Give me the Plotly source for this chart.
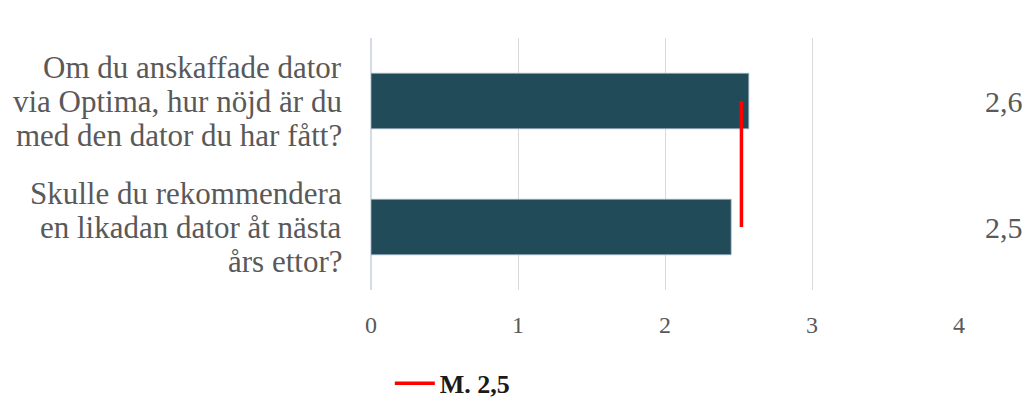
import plotly.graph_objects as go

# Survey questions (top to bottom), wrapped into display lines, and their average scores
questions = [
    "Om du anskaffade dator via Optima, hur nöjd är du med den dator du har fått?",
    "Skulle du rekommendera en likadan dator åt nästa års ettor?",
]
question_lines = [
    ["Om du anskaffade dator", "via Optima, hur nöjd är du", "med den dator du har fått?"],
    ["Skulle du rekommendera", "en likadan dator åt nästa", "års ettor?"],
]
scores = [2.57, 2.45]
mean_score = 2.52
mean_label = "M. 2,5"
x_ticks = [0, 1, 2, 3, 4]

BAR_COLOR = "#224b5a"
TEXT_GRAY = "#595959"
SERIF = "Liberation Serif, Times New Roman, serif"
LABEL_SIZE = 31
LINE_STEP = 34  # px between wrapped label lines


def fmt_sv(v):
    return f"{v:.1f}".replace(".", ",")


fig = go.Figure()

fig.add_trace(go.Bar(
    x=scores,
    y=questions,
    orientation="h",
    width=0.44,
    marker=dict(color=BAR_COLOR, line=dict(color="#9fb3c2", width=0.8)),
    showlegend=False,
    hoverinfo="x",
))

# Mean marker running between the two bars
fig.add_trace(go.Scatter(
    x=[mean_score, mean_score],
    y=questions,
    mode="lines",
    line=dict(color="#ff0000", width=3.5),
    name=mean_label,
))

# Category labels, one annotation per line for tight line spacing
for q, lines in zip(questions, question_lines):
    n = len(lines)
    for i, line in enumerate(lines):
        offset = (i - (n - 1) / 2) * LINE_STEP
        fig.add_annotation(
            x=0, xref="paper", xanchor="right", xshift=-27,
            y=q, yref="y", yanchor="middle", yshift=-offset,
            text=line, showarrow=False,
            font=dict(family=SERIF, size=LABEL_SIZE, color=TEXT_GRAY),
        )

# Score values listed in the right margin
for q, s in zip(questions, scores):
    fig.add_annotation(
        x=1, xref="paper", xanchor="right", xshift=66,
        y=q, yref="y", yanchor="middle",
        text=fmt_sv(s), showarrow=False,
        font=dict(family=SERIF, size=30, color=TEXT_GRAY),
    )

fig.update_layout(
    width=1029, height=403,
    margin=dict(l=371, r=70, t=38, b=113, autoexpand=False),
    paper_bgcolor="white",
    plot_bgcolor="white",
    font=dict(family=SERIF, color=TEXT_GRAY),
    showlegend=True,
    legend=dict(
        orientation="h",
        x=0.032, xanchor="left",
        y=-0.37, yanchor="middle",
        itemwidth=40,
        font=dict(family=SERIF, size=26, color="#1a1a1a", weight="bold"),
        bgcolor="rgba(0,0,0,0)",
    ),
    xaxis=dict(
        range=[0, 4.0],
        tickvals=x_ticks,
        ticktext=[str(t) for t in x_ticks],
        showgrid=True,
        gridcolor="#d9d9d9",
        gridwidth=1,
        zeroline=True,
        zerolinecolor="#d6dce5",
        zerolinewidth=1.5,
        showline=False,
        ticks="",
        tickfont=dict(family=SERIF, size=24, color=TEXT_GRAY),
        ticklabelstandoff=18,
    ),
    yaxis=dict(
        categoryorder="array",
        categoryarray=questions[::-1],
        showgrid=False,
        zeroline=False,
        showline=False,
        ticks="",
        showticklabels=False,
        range=[-0.5, 1.5],
    ),
)

fig.write_html("out.html")
